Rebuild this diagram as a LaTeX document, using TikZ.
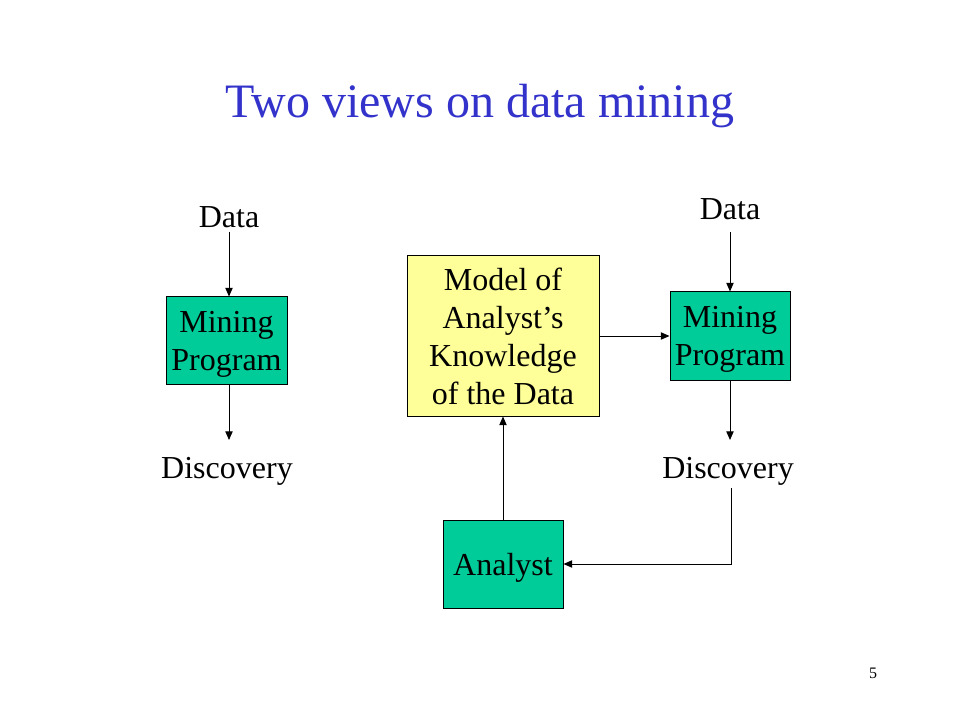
\documentclass[tikz,border=0pt]{standalone}
\usepackage{fontspec}
\setmainfont{Liberation Serif}
\usetikzlibrary{arrows.meta,calc}
\definecolor{boxgreen}{RGB}{0,204,153}
\definecolor{boxyellow}{RGB}{255,255,153}
\definecolor{titleblue}{RGB}{51,51,204}
\begin{document}
\begin{tikzpicture}[x=0.75pt,y=-0.75pt,
  txt/.style={font=\fontsize{24}{28.5}\selectfont, inner sep=0pt, align=center},
  gbox/.style={draw=black, line width=0.75pt, fill=boxgreen, minimum width=120*0.75pt, minimum height=88*0.75pt, inner sep=0pt, text depth=0pt, font=\fontsize{24}{28.5}\selectfont, align=center},
  ybox/.style={draw=black, line width=0.75pt, fill=boxyellow, minimum width=192*0.75pt, minimum height=160*0.75pt, inner sep=0pt, font=\fontsize{24}{28.5}\selectfont, align=center},
  arr/.style={line width=0.75pt, -{Triangle[length=6.5pt,width=5.5pt]}}]
\useasboundingbox (0,0) rectangle (960,720);
\fill[white] (0,0) rectangle (960,720);
% title
\node[anchor=base, text=titleblue, font=\fontsize{36}{40}\selectfont, inner sep=0pt] (title) at (480,118) {Two views on data mining};
% left view
\node[txt, anchor=base] (dataL) at (229,228) {Data};
\node[gbox, minimum width=121*0.75pt, minimum height=87*0.75pt] (mineL) at (226.5,340.5) {Mining\\Program};
\node[txt, anchor=base] (discL) at (227,478) {Discovery};
\draw[arr] ($(dataL.base)+(0,4)$) -- (mineL.north -| dataL.base);
\draw[arr] (mineL.south -| dataL.base) -- ($(discL.base)+(2,-38)$);
% right view
\node[ybox] (model) at (503,336) {Model of\\Analyst’s\\Knowledge\\of the Data};
\node[txt, anchor=base] (dataR) at (730,220) {Data};
\node[gbox] (mineR) at (730,336) {Mining\\Program};
\node[txt, anchor=base] (discR) at (728,478) {Discovery};
\node[gbox] (analyst) at (503,564) {Analyst};
\draw[arr] ($(dataR.base)+(0,12)$) -- (mineR.north);
\draw[arr] (mineR.south) -- ($(discR.base)+(2,-38)$);
\draw[arr] (model.east) -- (mineR.west);
\draw[arr] ($(discR.base)+(3,10)$) |- (analyst.east);
\draw[arr] (analyst.north) -- (model.south);
% page number
\node[anchor=base, font=\fontsize{12}{14}\selectfont, inner sep=0pt] (page) at (873,678) {5};
\end{tikzpicture}
\end{document}
